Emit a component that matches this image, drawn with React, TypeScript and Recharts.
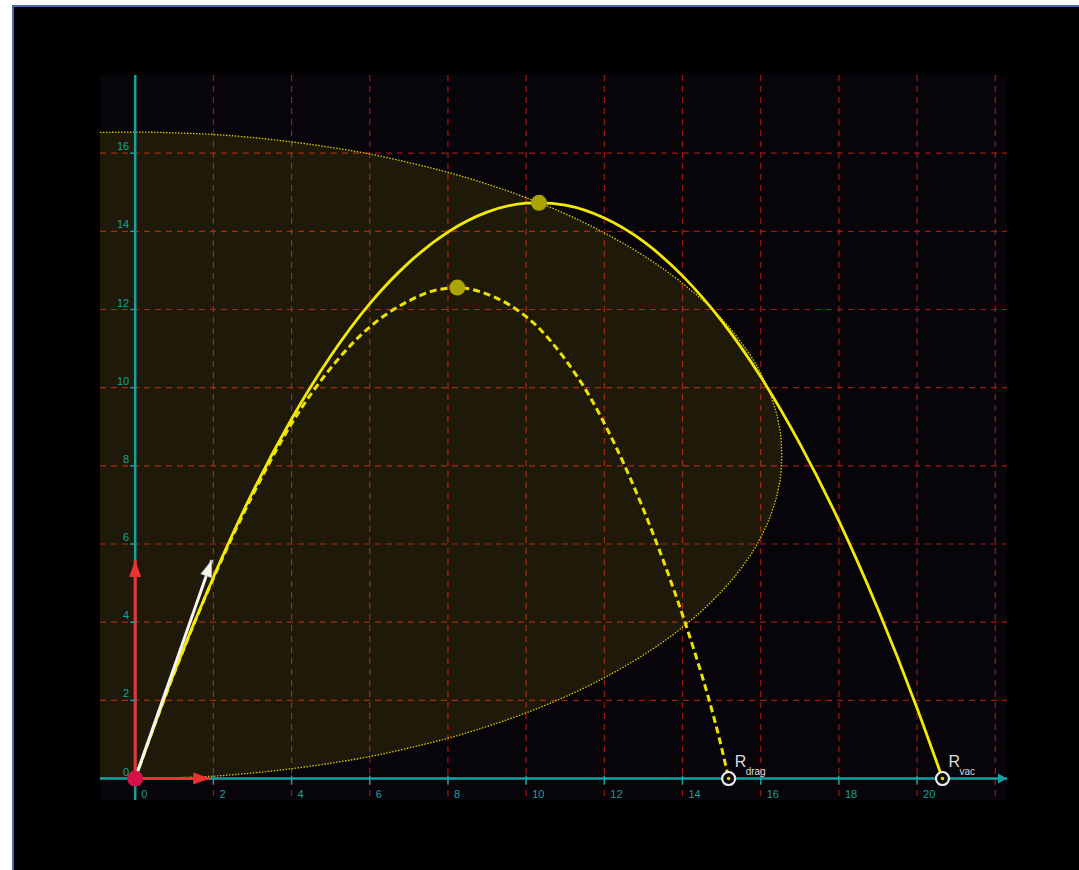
import React from 'react';
import {
  ComposedChart,
  XAxis,
  YAxis,
  CartesianGrid,
  Area,
  Line,
  Scatter,
  ReferenceLine,
} from 'recharts';

// grid + tick values
const xGridTicks = [2, 4, 6, 8, 10, 12, 14, 16, 18, 20, 22];
const yGridTicks = [2, 4, 6, 8, 10, 12, 14, 16];
const xTickLabels = [0, 2, 4, 6, 8, 10, 12, 14, 16, 18, 20];
const yTickLabels = [0, 2, 4, 6, 8, 10, 12, 14, 16];

// trajectory in vacuum (solid)
const vacuumX = [0, 1, 2, 3, 4, 5, 6, 7, 8, 9, 10, 10.33, 11, 12, 13, 14, 15, 16, 17, 18, 19, 20, 20.65];
const vacuumY = [0, 2.72, 5.15, 7.32, 9.2, 10.81, 12.15, 13.2, 13.98, 14.49, 14.72, 14.73, 14.67, 14.34, 13.74, 12.86, 11.71, 10.28, 8.57, 6.59, 4.33, 1.8, 0];

// trajectory with drag (dashed)
const dragX = [0, 1, 2, 3, 4, 5, 6, 7, 7.6, 8.24, 8.9, 9.6, 10.3, 11.0, 11.6, 12.06, 12.5, 12.92, 13.34, 13.7, 14.05, 14.36, 14.66, 14.96, 15.18];
const dragY = [0, 2.7, 5.12, 7.24, 9.08, 10.5, 11.55, 12.22, 12.47, 12.56, 12.43, 12.1, 11.55, 10.72, 9.82, 8.97, 8.05, 7.08, 6.02, 5.05, 4.04, 3.08, 2.08, 0.95, 0];

// locus of apexes (dotted ellipse, shaded)
const apexX = [-0.9, 0, 1, 2, 3, 4, 5, 6, 7, 8, 9, 10, 11, 12, 13, 14, 15, 15.5, 16, 16.3, 16.45, 16.52, 16.54];
const apexTop = [16.53, 16.54, 16.52, 16.48, 16.4, 16.29, 16.15, 15.98, 15.76, 15.51, 15.21, 14.86, 14.45, 13.96, 13.38, 12.67, 11.76, 11.16, 10.37, 9.67, 9.13, 8.68, 8.27];
const apexBottom = [0.01, 0, 0.02, 0.06, 0.14, 0.25, 0.39, 0.56, 0.78, 1.03, 1.33, 1.68, 2.09, 2.58, 3.16, 3.87, 4.79, 5.38, 6.17, 6.87, 7.41, 7.86, 8.27];

// peak points
const peakX = [8.24, 10.33];
const peakY = [12.56, 14.73];

// ranges
const rangeX = [15.18, 20.65];
const rangeNames = ['drag', 'vac'];

// launch vectors (components + velocity)
const vectorX = [1.92, 0, 1.96];
const vectorY = [0, 5.59, 5.59];

const xEnd = 22.3;

const vacuumData = vacuumX.map((x, i) => ({ x, y: vacuumY[i] }));
const dragData = dragX.map((x, i) => ({ x, y: dragY[i] }));
const apexData = apexX.map((x, i) => ({ x, range: [apexBottom[i], apexTop[i]] }));
const peakData = peakX.map((x, i) => ({ x, y: peakY[i] }));
const rangeData = rangeX.map((x, i) => ({ x, y: 0, name: rangeNames[i] }));
const xLabelData = xTickLabels.map((x) => ({ x, y: 0 }));
const yLabelData = yTickLabels.map((y) => ({ x: 0, y }));

const TEAL = '#18a0a0';
const FONT = 'Liberation Sans, Arial, sans-serif';
const vectorColors = ['#ec3232', '#ec3232', '#f4f4f4'];

const arrowDot = (color: string) => {
  let tail: [number, number] = [0, 0];
  return (p: any) => {
    if (p.index === 0) {
      tail = [p.cx, p.cy];
      return <g key={`a${p.index}`} />;
    }
    const ang = Math.atan2(p.cy - tail[1], p.cx - tail[0]);
    const L = 17;
    const W = 6;
    const bx = p.cx - L * Math.cos(ang);
    const by = p.cy - L * Math.sin(ang);
    const pts = `${p.cx},${p.cy} ${bx - W * Math.sin(ang)},${by + W * Math.cos(ang)} ${bx + W * Math.sin(ang)},${by - W * Math.cos(ang)}`;
    return <polygon key={`a${p.index}`} points={pts} fill={color} stroke="#777" strokeOpacity={color === '#f4f4f4' ? 0.6 : 0} strokeWidth={0.8} />;
  };
};

const XLabel = (p: any) => (
  <g>
    <line x1={p.cx} y1={p.cy - 3} x2={p.cx} y2={p.cy + 6} stroke={TEAL} strokeWidth={1.5} />
    <text x={p.cx + 6} y={p.cy + 19} fontSize={11} fill={TEAL} fontFamily={FONT}>
      {p.payload.x}
    </text>
  </g>
);

const YLabel = (p: any) => (
  <g>
    <line x1={p.cx - 5} y1={p.cy} x2={p.cx} y2={p.cy} stroke={TEAL} strokeWidth={1.5} />
    <text x={p.cx - 6} y={p.cy - 3} fontSize={11} fill={TEAL} fontFamily={FONT} textAnchor="end">
      {p.payload.y}
    </text>
  </g>
);

const RangeMark = (p: any) => (
  <g>
    <circle cx={p.cx} cy={p.cy} r={6.5} fill="#0a0808" stroke="#ececec" strokeWidth={2.2} />
    <circle cx={p.cx} cy={p.cy} r={1.8} fill="#e6dc00" />
    <text x={p.cx + 6} y={p.cy - 12} fontSize={16} fill="#dcdcdc" fontFamily={FONT}>
      R
    </text>
    <text x={p.cx + 17} y={p.cy - 4} fontSize={10} fill="#dcdcdc" fontFamily={FONT}>
      {p.payload.name}
    </text>
  </g>
);

const AxisArrow = (p: any) => (
  <polygon points={`${p.cx},${p.cy} ${p.cx - 9},${p.cy - 5} ${p.cx - 9},${p.cy + 5}`} fill={TEAL} />
);

export default function App() {
  return (
    <div style={{ position: 'absolute', left: 0, top: 0, width: 1079, height: 870, background: '#fff', overflow: 'hidden' }}>
      <div
        style={{
          position: 'absolute',
          left: 12,
          top: 5,
          width: 1100,
          height: 900,
          background: '#000',
          borderLeft: '2px solid #4a69a8',
          borderTop: '2px solid #4a69a8',
        }}
      />
      <div style={{ position: 'absolute', left: 0, top: 0 }}>
        <ComposedChart width={1079} height={870} margin={{ top: 75, right: 72, bottom: 70, left: 100 }}>
          <XAxis dataKey="x" type="number" domain={[-0.9, xEnd]} ticks={xGridTicks} hide />
          <YAxis type="number" domain={[-0.55, 18]} ticks={yGridTicks} hide />
          <CartesianGrid
            fill="#07040a"
            stroke="#a01812"
            strokeDasharray="6 5"
            strokeWidth={1.2}
            verticalValues={xGridTicks}
            horizontalValues={yGridTicks}
          />
          <Area
            data={apexData}
            dataKey="range"
            type="monotone"
            fill="#eadc00"
            fillOpacity={0.1}
            stroke="#d8cc00"
            strokeWidth={1.3}
            strokeDasharray="1.5 1.5"
            isAnimationActive={false}
          />
          <ReferenceLine x={0} stroke={TEAL} strokeWidth={2.5} />
          <ReferenceLine y={0} stroke={TEAL} strokeWidth={2.5} />
          <Scatter data={[{ x: xEnd, y: 0 }]} dataKey="y" shape={AxisArrow} isAnimationActive={false} />
          <Scatter data={xLabelData} dataKey="y" shape={XLabel} isAnimationActive={false} />
          <Scatter data={yLabelData} dataKey="y" shape={YLabel} isAnimationActive={false} />
          <Line
            data={dragData}
            dataKey="y"
            type="monotone"
            stroke="#ece200"
            strokeWidth={3}
            strokeDasharray="7 4"
            dot={false}
            activeDot={false}
            isAnimationActive={false}
          />
          <Line
            data={vacuumData}
            dataKey="y"
            type="monotone"
            stroke="#f2ea00"
            strokeWidth={2.8}
            dot={false}
            activeDot={false}
            isAnimationActive={false}
          />
          {vectorX.map((vx, i) => (
            <Line
              key={`v${i}`}
              data={[{ x: 0, y: 0 }, { x: vx, y: vectorY[i] }]}
              dataKey="y"
              type="linear"
              stroke={vectorColors[i]}
              strokeWidth={3}
              dot={arrowDot(vectorColors[i])}
              activeDot={false}
              isAnimationActive={false}
            />
          ))}
          <Scatter
            data={peakData}
            dataKey="y"
            shape={(p: any) => <circle cx={p.cx} cy={p.cy} r={8} fill="#aaa300" />}
            isAnimationActive={false}
          />
          <Scatter data={rangeData} dataKey="y" shape={RangeMark} isAnimationActive={false} />
          <Scatter
            data={[{ x: 0, y: 0 }]}
            dataKey="y"
            shape={(p: any) => <circle cx={p.cx} cy={p.cy} r={8} fill="#d3124a" />}
            isAnimationActive={false}
          />
        </ComposedChart>
      </div>
    </div>
  );
}
